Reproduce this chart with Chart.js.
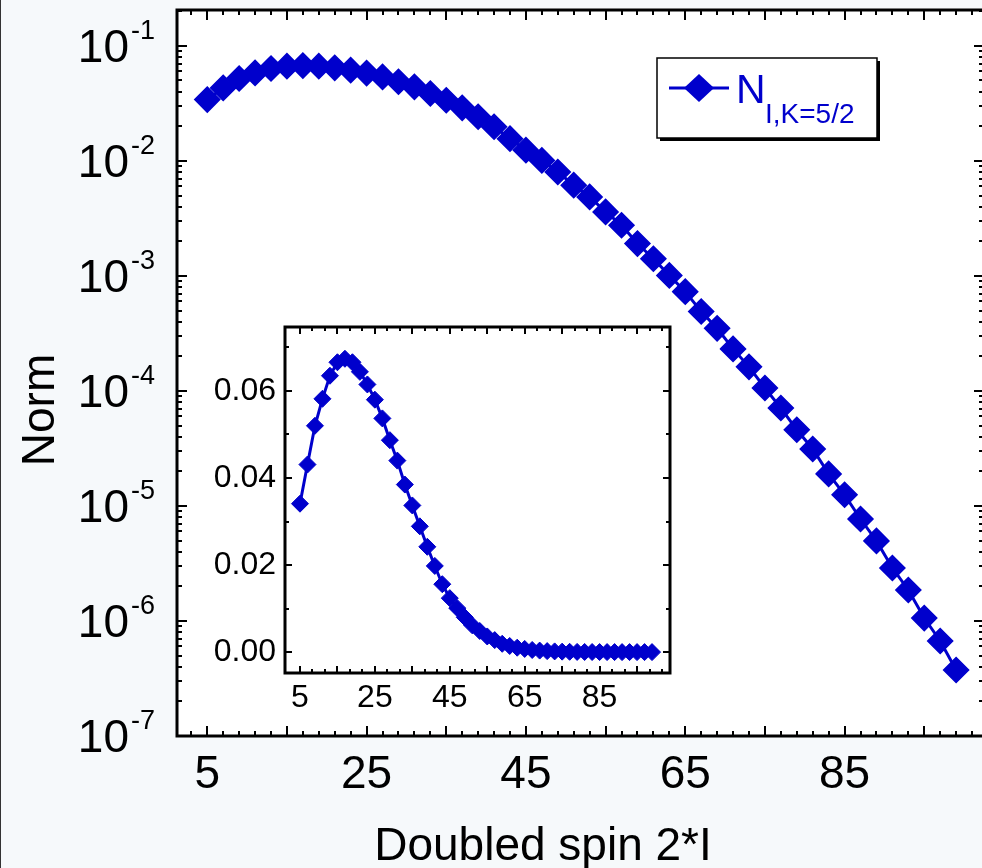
<!DOCTYPE html>
<html lang="en">
<head>
  <meta charset="UTF-8" />
  <title>Norm vs doubled spin</title>
  <script src="https://cdn.jsdelivr.net/npm/chart.js@4.4.0/dist/chart.umd.min.js"></script>
  <style>
    html, body { margin: 0; padding: 0; background: #f6f9fb; overflow: hidden; }
    #wrap  { position: relative; width: 982px; height: 868px; overflow: hidden; }
    #main  { position: absolute; left: 0; top: 0; }
    #inset { position: absolute; left: 190px; top: 317px; }
    #edge  { position: absolute; left: 0; top: 0; width: 1px; height: 868px; background: #333; }
  </style>
</head>
<body>
  <div id="wrap">
    <canvas id="main" width="992" height="868"></canvas>
    <canvas id="inset" width="490" height="405"></canvas>
    <div id="edge"></div>
  </div>

  <script>
    // ---- data ---------------------------------------------------------------
    const spin = [5, 7, 9, 11, 13, 15, 17, 19, 21, 23, 25, 27, 29, 31, 33, 35,
                  37, 39, 41, 43, 45, 47, 49, 51, 53, 55, 57, 59, 61, 63, 65, 67,
                  69, 71, 73, 75, 77, 79, 81, 83, 85, 87, 89, 91, 93, 95, 97, 99];
    const norm = [0.0341, 0.0431, 0.0520, 0.0582, 0.0635, 0.0666, 0.0674, 0.0666,
                  0.0644, 0.0615, 0.0580, 0.0537, 0.0487, 0.0440, 0.0385, 0.0337,
                  0.0289, 0.0242, 0.0198, 0.0156, 0.0124, 0.0101, 0.0080, 0.00615,
                  0.00486, 0.00360, 0.00276, 0.00191, 0.00141, 0.00101, 7.3e-4, 4.9e-4,
                  3.5e-4, 2.32e-4, 1.62e-4, 1.06e-4, 7.1e-5, 4.6e-5, 3.13e-5, 1.9e-5,
                  1.25e-5, 7.7e-6, 4.97e-6, 2.89e-6, 1.86e-6, 1.06e-6, 6.7e-7, 3.75e-7];

    const xLabels      = [5, 25, 45, 65, 85];
    const yDecades     = [1e-7, 1e-6, 1e-5, 1e-4, 1e-3, 1e-2, 1e-1];
    const yExponents   = ['-7', '-6', '-5', '-4', '-3', '-2', '-1'];
    const insetYLabels = [0, 0.02, 0.04, 0.06];
    const seriesName   = ['N', 'I,K=5/2'];
    const xTitle = 'Doubled spin 2*I';
    const yTitle = 'Norm';

    const BLUE = '#0000cc';
    const FONT = '"Liberation Sans", Arial, sans-serif';
    const pts  = spin.map((s, i) => ({ x: s, y: norm[i] }));

    Chart.defaults.color = '#000';
    Chart.defaults.font.family = FONT;

    // tick positions (inward ticks on all four sides)
    const mainXMajor = [], mainXMinor = [], mainYMinor = [];
    for (let v = 5; v <= 95; v += 10) mainXMajor.push(v);
    for (let v = 3; v <= 101; v += 2) if ((v - 5) % 10) mainXMinor.push(v);
    yDecades.forEach(d => { for (let k = 2; k <= 9; k++) mainYMinor.push(d * k); });
    const insetXMinor = [];
    mainXMajor.forEach(v => { insetXMinor.push(v + 10 / 3, v + 20 / 3); });

    // ---- plugins -------------------------------------------------------------
    const frame = {
      id: 'frame',
      beforeDraw(chart) {
        const { ctx, chartArea: a } = chart;
        ctx.save();
        ctx.fillStyle = '#fff';
        ctx.fillRect(a.left, a.top, a.right - a.left, a.bottom - a.top);
        ctx.restore();
      },
      afterDraw(chart, args, o) {
        const { ctx, chartArea: a, scales: { x, y } } = chart;
        ctx.save();
        ctx.strokeStyle = '#000';
        ctx.lineWidth = 2;
        const xt = (vals, len) => vals.forEach(v => {
          const p = Math.round(x.getPixelForValue(v));
          if (p < a.left || p > a.right) return;
          ctx.beginPath();
          ctx.moveTo(p, a.bottom); ctx.lineTo(p, a.bottom - len);
          ctx.moveTo(p, a.top);    ctx.lineTo(p, a.top + len);
          ctx.stroke();
        });
        const yt = (vals, len) => vals.forEach(v => {
          const p = Math.round(y.getPixelForValue(v));
          if (p < a.top || p > a.bottom) return;
          ctx.beginPath();
          ctx.moveTo(a.left, p);  ctx.lineTo(a.left + len, p);
          ctx.moveTo(a.right, p); ctx.lineTo(a.right - len, p);
          ctx.stroke();
        });
        xt(o.xMajor, o.major); xt(o.xMinor, o.minor);
        yt(o.yMajor, o.major); yt(o.yMinor, o.minor);
        ctx.lineWidth = o.width;
        ctx.strokeRect(a.left, a.top, a.right - a.left, a.bottom - a.top);
        ctx.restore();
      }
    };

    const decor = {
      id: 'decor',
      afterDraw(chart) {
        const { ctx, chartArea: a, scales: { y } } = chart;
        ctx.save();
        ctx.fillStyle = '#000';
        ctx.textAlign = 'left';
        ctx.textBaseline = 'alphabetic';

        // log tick labels 10^n
        const big = '46px ' + FONT, sup = '27px ' + FONT;
        yDecades.forEach((d, i) => {
          const p = y.getPixelForValue(d);
          ctx.font = sup; const ws = ctx.measureText(yExponents[i]).width;
          ctx.font = big; const wb = ctx.measureText('10').width;
          const right = a.left - 22;
          ctx.fillText('10', right - ws - 2 - wb, p + 16);
          ctx.font = sup;
          ctx.fillText(yExponents[i], right - ws, p - 7);
        });

        // axis titles
        ctx.font = big;
        ctx.textAlign = 'center';
        ctx.fillText(xTitle, 543, 860);
        ctx.save();
        ctx.translate(41, 410);
        ctx.rotate(-Math.PI / 2);
        ctx.textBaseline = 'middle';
        ctx.fillText(yTitle, 0, 0);
        ctx.restore();

        // legend box
        ctx.fillStyle = '#000';
        ctx.fillRect(660, 61, 220, 80);
        ctx.fillStyle = '#fff';
        ctx.fillRect(657, 58, 220, 80);
        ctx.lineWidth = 1.5;
        ctx.strokeStyle = '#000';
        ctx.strokeRect(657, 58, 220, 80);
        ctx.strokeStyle = BLUE;
        ctx.lineWidth = 3;
        ctx.beginPath(); ctx.moveTo(669, 88); ctx.lineTo(729, 88); ctx.stroke();
        ctx.fillStyle = BLUE;
        ctx.beginPath();
        ctx.moveTo(684, 88); ctx.lineTo(699, 74); ctx.lineTo(714, 88); ctx.lineTo(699, 102);
        ctx.closePath(); ctx.fill();
        ctx.textAlign = 'left';
        ctx.font = '41px ' + FONT;
        ctx.fillText(seriesName[0], 736, 103);
        ctx.font = '28px ' + FONT;
        ctx.fillText(seriesName[1], 765, 123);
        ctx.restore();
      }
    };

    const fixedTicks = vals => s => { s.ticks = vals.map(v => ({ value: v })); };
    const noPad = s => { s.paddingTop = 0; s.paddingBottom = 0; s.paddingLeft = 0; s.paddingRight = 0; };

    // ---- main chart (log) ----------------------------------------------------
    new Chart(document.getElementById('main'), {
      type: 'line',
      data: {
        datasets: [{
          data: pts,
          borderColor: BLUE, borderWidth: 3,
          pointStyle: 'rectRot', pointRadius: 12.5,
          pointBackgroundColor: BLUE, pointBorderColor: BLUE, pointBorderWidth: 1.5,
          tension: 0
        }]
      },
      options: {
        responsive: false, animation: false,
        layout: { autoPadding: false, padding: { top: 10, right: 8, left: 0, bottom: 0 } },
        plugins: {
          legend: { display: false }, tooltip: { enabled: false },
          frame: { width: 3, major: 10, minor: 5,
                   xMajor: mainXMajor, xMinor: mainXMinor,
                   yMajor: yDecades, yMinor: mainYMinor }
        },
        scales: {
          x: {
            type: 'linear', min: 1.2, max: 102.5,
            grid: { display: false, drawTicks: false }, border: { display: false },
            afterBuildTicks: fixedTicks(xLabels),
            afterFit: s => { s.height = 132; noPad(s); },
            ticks: { font: { size: 46 }, padding: 12, maxRotation: 0, autoSkip: false }
          },
          y: {
            type: 'logarithmic', min: 1e-7, max: 0.205,
            grid: { display: false, drawTicks: false }, border: { display: false },
            afterFit: s => { s.width = 177; noPad(s); },
            ticks: { display: false }
          }
        }
      },
      plugins: [frame, decor]
    });

    // ---- inset (linear) ------------------------------------------------------
    new Chart(document.getElementById('inset'), {
      type: 'line',
      data: {
        datasets: [{
          data: pts,
          borderColor: BLUE, borderWidth: 3,
          pointStyle: 'rectRot', pointRadius: 8.5,
          pointBackgroundColor: BLUE, pointBorderColor: BLUE, pointBorderWidth: 1,
          tension: 0
        }]
      },
      options: {
        responsive: false, animation: false,
        layout: { autoPadding: false, padding: { top: 10, right: 10, left: 0, bottom: 0 } },
        plugins: {
          legend: { display: false }, tooltip: { enabled: false },
          frame: { width: 3, major: 7, minor: 4,
                   xMajor: mainXMajor, xMinor: insetXMinor,
                   yMajor: insetYLabels, yMinor: [0.01, 0.03, 0.05, 0.07] }
        },
        scales: {
          x: {
            type: 'linear', min: 1, max: 103.8,
            grid: { display: false, drawTicks: false }, border: { display: false },
            afterBuildTicks: fixedTicks(xLabels),
            afterFit: s => { s.height = 49; noPad(s); },
            ticks: { font: { size: 32 }, padding: 6, maxRotation: 0, autoSkip: false }
          },
          y: {
            type: 'linear', min: -0.0048, max: 0.0747,
            grid: { display: false, drawTicks: false }, border: { display: false },
            afterBuildTicks: fixedTicks(insetYLabels),
            afterFit: s => { s.width = 95; noPad(s); },
            ticks: { font: { size: 32 }, padding: 9, callback: v => v.toFixed(2) }
          }
        }
      },
      plugins: [frame]
    });
  </script>
</body>
</html>
